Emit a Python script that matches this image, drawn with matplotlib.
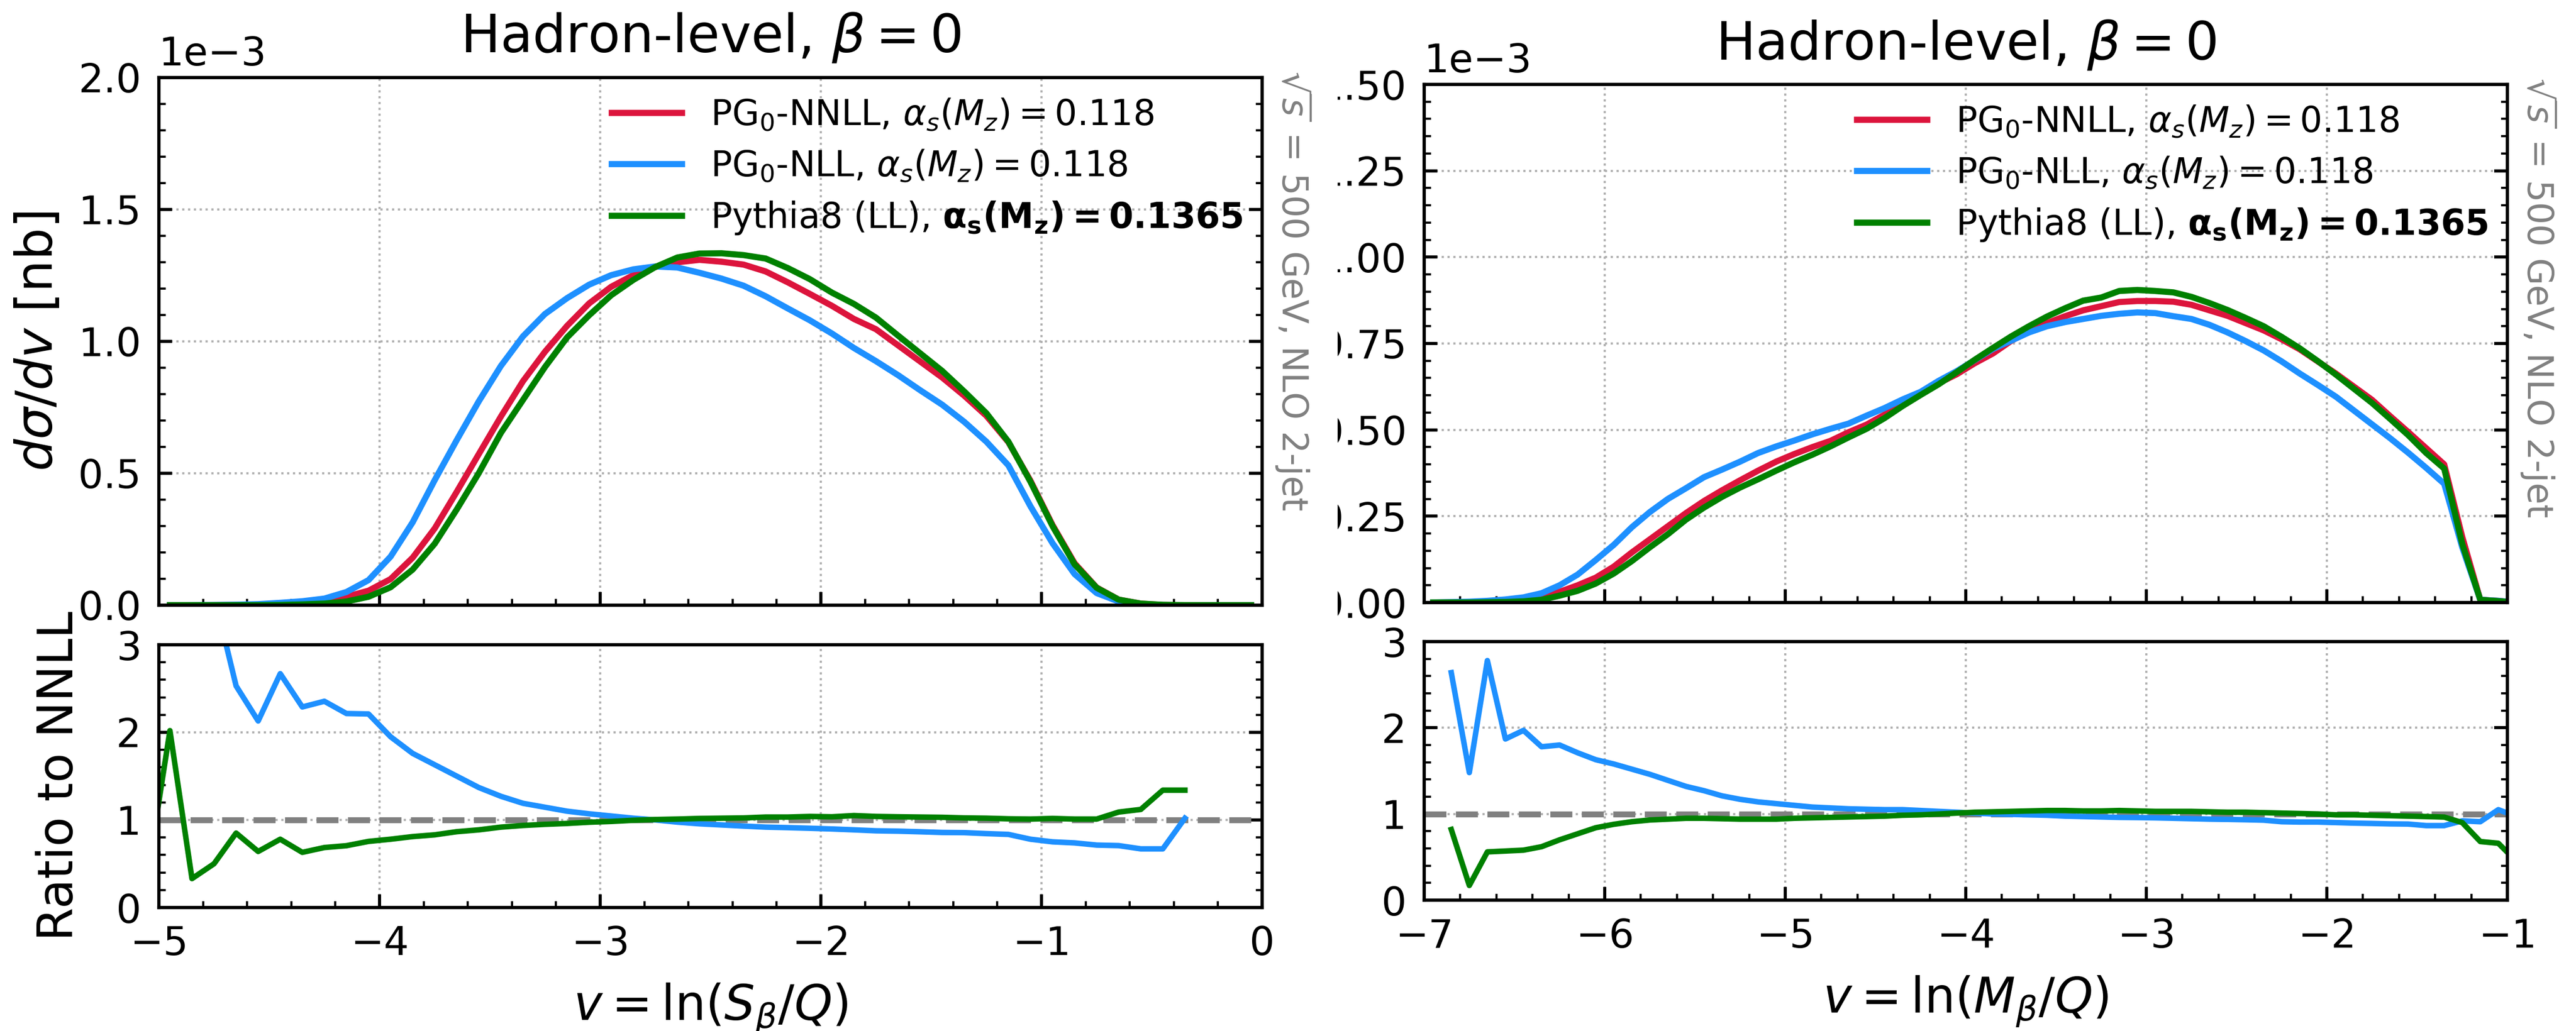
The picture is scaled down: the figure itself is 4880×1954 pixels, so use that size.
import numpy as np
import matplotlib
matplotlib.use("Agg")
import matplotlib.pyplot as plt
from matplotlib.ticker import MultipleLocator, AutoMinorLocator
from matplotlib.transforms import Bbox, TransformedBbox, ScaledTranslation

# ---------------------------------------------------------------------------
# Data: binned distributions (units of 1e-3 nb), bin width 0.1
# ---------------------------------------------------------------------------
# Left panel: v = ln(S_beta/Q), bin centres -4.95 ... -0.05
s_start = -4.95
s_nnll = np.array([
    0.0, 0.0, 0.0005, 0.001, 0.002, 0.004, 0.007, 0.012, 0.032, 0.055,
    0.099, 0.180, 0.291, 0.430, 0.573, 0.715, 0.849, 0.961, 1.059, 1.144,
    1.207, 1.251, 1.282, 1.300, 1.309, 1.302, 1.291, 1.265, 1.224, 1.180,
    1.135, 1.085, 1.046, 0.985, 0.924, 0.863, 0.794, 0.718, 0.618, 0.472,
    0.304, 0.159, 0.067, 0.021, 0.006, 0.001, 0.0, 0.0, 0.0, 0.0])
s_nll = np.array([
    0.0, 0.0005, 0.001, 0.002, 0.004, 0.009, 0.015, 0.025, 0.050, 0.095,
    0.184, 0.314, 0.474, 0.626, 0.773, 0.907, 1.019, 1.104, 1.164, 1.215,
    1.251, 1.273, 1.284, 1.280, 1.260, 1.238, 1.211, 1.171, 1.125, 1.080,
    1.030, 0.975, 0.925, 0.872, 0.815, 0.760, 0.695, 0.620, 0.530, 0.375,
    0.235, 0.118, 0.046, 0.014, 0.004, 0.0007, 0.0, 0.0, 0.0, 0.0])
s_pythia = np.array([
    0.0, 0.0, 0.0, 0.0, 0.0, 0.001, 0.003, 0.006, 0.014, 0.032,
    0.068, 0.135, 0.233, 0.363, 0.501, 0.653, 0.778, 0.903, 1.015, 1.099,
    1.175, 1.233, 1.282, 1.318, 1.333, 1.334, 1.327, 1.314, 1.278, 1.236,
    1.185, 1.142, 1.090, 1.022, 0.955, 0.888, 0.810, 0.728, 0.620, 0.468,
    0.300, 0.155, 0.066, 0.021, 0.006, 0.0015, 0.0003, 0.0, 0.0, 0.0])

# Ratios to NNLL, bin centres -5.05 ... -0.35
s_ratio_start = -5.05
s_ratio_nll = np.array([
    2.0, 4.2, 4.0, 3.57, 2.53, 2.13, 2.67, 2.29, 2.355, 2.215,
    2.21, 1.95, 1.76, 1.63, 1.50, 1.37, 1.27, 1.19, 1.145, 1.10,
    1.07, 1.045, 1.02, 1.0, 0.975, 0.956, 0.943, 0.93, 0.918, 0.912,
    0.905, 0.897, 0.887, 0.876, 0.872, 0.865, 0.857, 0.855, 0.844, 0.835,
    0.78, 0.75, 0.738, 0.713, 0.707, 0.67, 0.67, 1.02])
s_ratio_pythia = np.array([
    0.4, 2.02, 0.33, 0.50, 0.85, 0.64, 0.78, 0.63, 0.685, 0.706,
    0.755, 0.78, 0.81, 0.83, 0.866, 0.887, 0.918, 0.937, 0.95, 0.96,
    0.974, 0.983, 0.996, 1.005, 1.01, 1.017, 1.02, 1.023, 1.033, 1.033,
    1.04, 1.036, 1.05, 1.04, 1.036, 1.033, 1.03, 1.023, 1.02, 1.013,
    1.01, 1.017, 1.01, 1.01, 1.09, 1.12, 1.34, 1.34])

# Right panel: v = ln(M_beta/Q), bin centres -6.95 ... -0.95
m_start = -6.95
m_nnll = np.array([
    0.0002, 0.0005, 0.001, 0.002, 0.003, 0.006, 0.015, 0.031, 0.050, 0.072,
    0.104, 0.145, 0.183, 0.221, 0.259, 0.294, 0.325, 0.354, 0.382, 0.408,
    0.430, 0.450, 0.468, 0.493, 0.515, 0.544, 0.578, 0.607, 0.635, 0.661,
    0.693, 0.721, 0.757, 0.786, 0.809, 0.829, 0.846, 0.858, 0.870, 0.873,
    0.873, 0.871, 0.862, 0.846, 0.830, 0.809, 0.788, 0.762, 0.733, 0.698,
    0.663, 0.625, 0.587, 0.540, 0.494, 0.447, 0.400, 0.190, 0.008, 0.005,
    0.0])
m_nll = np.array([
    0.0005, 0.0013, 0.0025, 0.005, 0.009, 0.015, 0.027, 0.050, 0.081, 0.123,
    0.167, 0.218, 0.262, 0.300, 0.331, 0.363, 0.385, 0.408, 0.433, 0.452,
    0.469, 0.487, 0.503, 0.518, 0.541, 0.563, 0.588, 0.610, 0.642, 0.670,
    0.702, 0.734, 0.758, 0.782, 0.800, 0.812, 0.821, 0.830, 0.836, 0.840,
    0.838, 0.829, 0.821, 0.804, 0.782, 0.757, 0.730, 0.698, 0.663, 0.630,
    0.596, 0.556, 0.516, 0.476, 0.434, 0.390, 0.344, 0.160, 0.008, 0.005,
    0.0])
m_pythia = np.array([
    0.0002, 0.0004, 0.0002, 0.001, 0.0017, 0.0035, 0.008, 0.020, 0.034, 0.055,
    0.084, 0.120, 0.160, 0.198, 0.240, 0.275, 0.306, 0.333, 0.357, 0.382,
    0.406, 0.428, 0.452, 0.478, 0.503, 0.534, 0.569, 0.601, 0.632, 0.667,
    0.703, 0.737, 0.770, 0.800, 0.828, 0.852, 0.874, 0.883, 0.902, 0.905,
    0.902, 0.898, 0.885, 0.867, 0.847, 0.824, 0.800, 0.769, 0.736, 0.699,
    0.660, 0.619, 0.578, 0.532, 0.485, 0.433, 0.388, 0.170, 0.008, 0.004,
    0.0])

# Ratios to NNLL, bin centres -6.85 ... -0.95
m_ratio_start = -6.85
m_ratio_nll = np.array([
    2.64, 1.48, 2.78, 1.87, 1.97, 1.78, 1.80, 1.71, 1.63, 1.58,
    1.52, 1.46, 1.39, 1.32, 1.27, 1.21, 1.17, 1.14, 1.12, 1.10,
    1.08, 1.07, 1.06, 1.055, 1.05, 1.05, 1.04, 1.03, 1.02, 1.01,
    1.0, 0.995, 0.99, 0.985, 0.975, 0.97, 0.965, 0.96, 0.958, 0.955,
    0.95, 0.945, 0.94, 0.937, 0.933, 0.928, 0.91, 0.906, 0.906, 0.90,
    0.894, 0.89, 0.885, 0.883, 0.865, 0.865, 0.92, 0.91, 1.05, 0.97])
m_ratio_pythia = np.array([
    0.82, 0.17, 0.56, 0.57, 0.58, 0.62, 0.70, 0.77, 0.84, 0.88,
    0.91, 0.93, 0.94, 0.95, 0.95, 0.945, 0.94, 0.94, 0.94, 0.95,
    0.955, 0.96, 0.965, 0.97, 0.975, 0.985, 0.99, 1.0, 1.01, 1.02,
    1.025, 1.03, 1.035, 1.04, 1.04, 1.035, 1.035, 1.04, 1.035, 1.03,
    1.03, 1.03, 1.025, 1.02, 1.02, 1.015, 1.01, 1.005, 1.0, 0.99,
    0.99, 0.985, 0.98, 0.975, 0.97, 0.964, 0.90, 0.68, 0.66, 0.45])

labels = [r"PG$_0$-NNLL, $\alpha_s(M_z) = 0.118$",
          r"PG$_0$-NLL, $\alpha_s(M_z) = 0.118$",
          r"Pythia8 (LL), $\mathbf{\alpha_s(M_z) = 0.1365}$"]
colors = ["#DC143C", "#1E90FF", "#008000"]

# ---------------------------------------------------------------------------
# Style
# ---------------------------------------------------------------------------
plt.rcParams.update({
    "font.family": ["DejaVu Sans"],
    "mathtext.fontset": "dejavusans",
    "font.size": 18,
    "axes.linewidth": 1.5,
    "xtick.direction": "in",
    "ytick.direction": "in",
    "xtick.top": False,
    "ytick.right": True,
    "xtick.major.size": 6,
    "ytick.major.size": 6,
    "xtick.minor.size": 3,
    "ytick.minor.size": 3,
    "xtick.major.width": 1.4,
    "ytick.major.width": 1.4,
    "xtick.minor.width": 1.0,
    "ytick.minor.width": 1.0,
    "xtick.major.pad": 8,
    "ytick.major.pad": 8,
    "xtick.labelsize": 18,
    "ytick.labelsize": 18,
})

DPI = 300
W, H = 4880, 1954
fig = plt.figure(figsize=(W / DPI, H / DPI), dpi=DPI)


def px_axes(x0, x1, y0, y1):
    """Axes rectangle from pixel edges (y measured from the top)."""
    return fig.add_axes([x0 / W, 1 - y1 / H, (x1 - x0) / W, (y1 - y0) / H])


ax_s = px_axes(301, 2391, 147, 1147)
ax_sr = px_axes(301, 2391, 1222, 1720)
ax_m = px_axes(2698, 4750, 160, 1142)
ax_mr = px_axes(2698, 4750, 1216, 1706)

grid_kw = dict(linestyle=":", color="#b0b0b0", linewidth=1.0)


def bins(start, n):
    return start + 0.1 * np.arange(n)


def draw(ax, axr, start, curves, rstart, ratios, xlim, ymax, ystep, xlabel):
    for vals, lab, col in zip(curves, labels, colors):
        ax.plot(bins(start, len(vals)), vals * 1e-3, color=col, lw=2.8, label=lab)
    ax.set_xlim(*xlim)
    ax.set_ylim(0, ymax)
    ax.xaxis.set_major_locator(MultipleLocator(1))
    ax.xaxis.set_minor_locator(AutoMinorLocator())
    ax.yaxis.set_major_locator(MultipleLocator(ystep))
    ax.yaxis.set_minor_locator(AutoMinorLocator())
    ax.ticklabel_format(axis="y", style="sci", scilimits=(0, 0))
    ax.yaxis.OFFSETTEXTPAD = 5.5
    ax.tick_params(axis="x", which="both", labelbottom=False)
    ax.grid(True, which="major", **grid_kw)
    ax.set_title(r"Hadron-level, $\beta = 0$", fontsize=24, pad=11.4)
    ax.legend(loc="upper right", bbox_to_anchor=(1.0, 1.0), fontsize=16,
              frameon=False, borderaxespad=0.15, handlelength=2.0,
              labelspacing=0.45)
    ax.text(1, 1, r"$\sqrt{s}$ = 500 GeV, NLO 2-jet", rotation=-90,
            ha="left", va="top", color="gray", fontsize=16,
            transform=ax.transAxes + ScaledTranslation(22 / DPI, 13 / DPI,
                                                       fig.dpi_scale_trans))

    axr.axhline(1.0, color="gray", linestyle="--", lw=2.7)
    for vals, col in zip(ratios, colors[1:]):
        axr.plot(bins(rstart, len(vals)), vals, color=col, lw=2.5)
    axr.set_xlim(*xlim)
    axr.set_ylim(0, 3)
    axr.xaxis.set_major_locator(MultipleLocator(1))
    axr.xaxis.set_minor_locator(AutoMinorLocator())
    axr.yaxis.set_major_locator(MultipleLocator(1))
    axr.yaxis.set_minor_locator(AutoMinorLocator())
    axr.grid(True, which="major", **grid_kw)
    axr.set_xlabel(xlabel, fontsize=22, labelpad=8)


draw(ax_s, ax_sr, s_start, [s_nnll, s_nll, s_pythia],
     s_ratio_start, [s_ratio_nll, s_ratio_pythia],
     (-5, 0), 2.0e-3, 0.5e-3, r"$v = \ln(S_\beta/Q)$")
draw(ax_m, ax_mr, m_start, [m_nnll, m_nll, m_pythia],
     m_ratio_start, [m_ratio_nll, m_ratio_pythia],
     (-7, -1), 1.5e-3, 0.25e-3, r"$v = \ln(M_\beta/Q)$")

ax_s.set_ylabel(r"$d\sigma/dv$ [nb]", fontsize=23)
ax_s.yaxis.set_label_coords(-0.087, 0.5)
ax_sr.set_ylabel("Ratio to NNLL", fontsize=22)
ax_sr.yaxis.set_label_coords(-0.069, 0.5)

# The right-hand panel's value labels are cut at the panel's left border
fig.canvas.draw()
cut = TransformedBbox(Bbox([[2534 / W, 0], [1, 1]]), fig.transFigure)
for t in ax_m.yaxis.get_major_ticks():
    t.label1.set_clip_on(True)
    t.label1.set_clip_box(cut)

fig.savefig("out.png", dpi=DPI, facecolor="white")
